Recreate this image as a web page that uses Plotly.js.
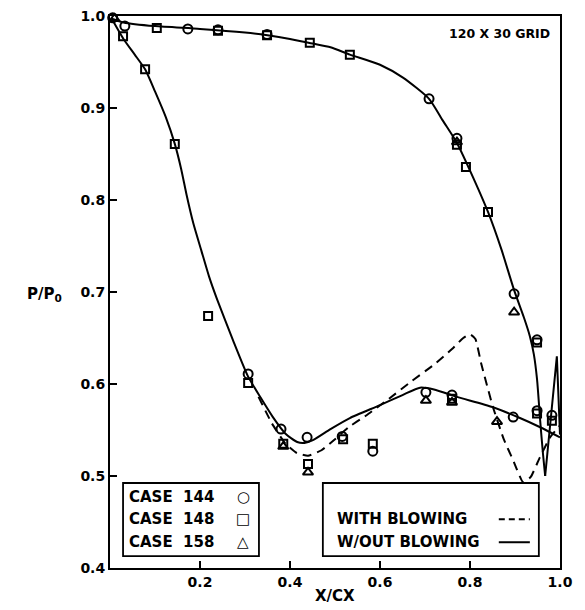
<!DOCTYPE html>
<html>
<head>
<meta charset="utf-8">
<script src="https://cdn.plot.ly/plotly-3.0.1.min.js"></script>
<style>html,body{margin:0;padding:0;background:#fff;}</style>
</head>
<body>
<div id="chart" style="width:585px;height:610px;"></div>
<script>
// ---- data ----
const xTickVals = [0.2, 0.4, 0.6, 0.8, 1.0];
const xTickText = ['0.2', '0.4', '0.6', '0.8', '1.0'];
const yTickVals = [0.4, 0.5, 0.6, 0.7, 0.8, 0.9, 1.0];
const yTickText = ['0.4', '0.5', '0.6', '0.7', '0.8', '0.9', '1.0'];

// CASE 144 (circles)
const case144X = [0.006, 0.033, 0.173, 0.240, 0.349, 0.709, 0.771, 0.898, 0.949, 0.949, 0.982,
                  0.307, 0.380, 0.438, 0.516, 0.584, 0.702, 0.760, 0.896];
const case144Y = [0.998, 0.989, 0.986, 0.985, 0.980, 0.910, 0.867, 0.698, 0.648, 0.571, 0.566,
                  0.611, 0.551, 0.542, 0.543, 0.527, 0.591, 0.588, 0.564];
// CASE 148 (squares)
const case148X = [0.029, 0.104, 0.240, 0.349, 0.444, 0.533, 0.771, 0.791, 0.840, 0.949, 0.949, 0.982,
                  0.078, 0.144, 0.218, 0.307, 0.385, 0.440, 0.518, 0.584, 0.760];
const case148Y = [0.978, 0.987, 0.984, 0.979, 0.971, 0.958, 0.860, 0.836, 0.787, 0.645, 0.568, 0.560,
                  0.942, 0.861, 0.674, 0.601, 0.535, 0.513, 0.540, 0.535, 0.584];
// CASE 158 (triangles)
const case158X = [0.010, 0.771, 0.898, 0.385, 0.440, 0.702, 0.760, 0.860];
const case158Y = [0.997, 0.863, 0.678, 0.532, 0.504, 0.582, 0.580, 0.559];

// W/OUT BLOWING (solid) - suction side, smooth part
const solidUpperX = [0.004, 0.030, 0.100, 0.200, 0.300, 0.350, 0.400, 0.450, 0.490, 0.533, 0.600, 0.651,
                     0.709, 0.740, 0.771, 0.800, 0.840, 0.870, 0.898, 0.920, 0.933, 0.942, 0.949, 0.956,
                     0.962, 0.967];
const solidUpperY = [0.997, 0.993, 0.989, 0.986, 0.982, 0.979, 0.975, 0.970, 0.966, 0.958, 0.947, 0.933,
                     0.910, 0.886, 0.862, 0.832, 0.787, 0.746, 0.702, 0.672, 0.652, 0.632, 0.605, 0.560,
                     0.525, 0.500];
// trailing-edge spike of the solid curve
const spikeX = [0.967, 0.993, 1.000];
const spikeY = [0.500, 0.630, 0.545];
// W/OUT BLOWING (solid) - pressure side
const solidLowerX = [0.004, 0.030, 0.055, 0.078, 0.100, 0.124, 0.144, 0.158, 0.170, 0.185, 0.203, 0.220,
                     0.238, 0.273, 0.307, 0.335, 0.362, 0.390, 0.416, 0.432, 0.451, 0.490, 0.533, 0.600,
                     0.650, 0.689, 0.720, 0.771, 0.850, 0.911, 0.956, 1.000];
const solidLowerY = [0.997, 0.975, 0.958, 0.942, 0.918, 0.890, 0.861, 0.834, 0.806, 0.775, 0.745, 0.717,
                     0.692, 0.648, 0.608, 0.585, 0.564, 0.546, 0.537, 0.536, 0.539, 0.551, 0.563, 0.577,
                     0.588, 0.596, 0.594, 0.586, 0.575, 0.563, 0.553, 0.542];
// WITH BLOWING (dashed) - where it departs from the solid curve
const dashedX = [0.330, 0.360, 0.390, 0.415, 0.440, 0.470, 0.500, 0.530, 0.570, 0.620, 0.670, 0.720,
                 0.760, 0.785, 0.800, 0.812, 0.825, 0.851, 0.875, 0.896, 0.918, 0.935, 0.955, 0.978, 1.000];
const dashedY = [0.586, 0.557, 0.535, 0.525, 0.522, 0.528, 0.540, 0.553, 0.566, 0.584, 0.603, 0.621,
                 0.638, 0.650, 0.654, 0.649, 0.622, 0.575, 0.540, 0.517, 0.493, 0.499, 0.520, 0.542, 0.555];

// legend texts
const caseLabels = ['CASE  144', 'CASE  148', 'CASE  158'];
const caseSymbols = ['\u25CB', '\u25A1', '\u25B3'];
const lineLabels = ['WITH BLOWING', 'W/OUT BLOWING'];

// ---- drawing ----
const FONT = 'DejaVu Sans, Arial, sans-serif';
const markerBase = {color: '#000', size: 9, line: {color: '#000', width: 2}};

const traces = [
  {x: solidUpperX, y: solidUpperY, mode: 'lines', line: {color: '#000', width: 2, shape: 'spline', smoothing: 0.6}, cliponaxis: false},
  {x: spikeX, y: spikeY, mode: 'lines', line: {color: '#000', width: 2}, cliponaxis: false},
  {x: solidLowerX, y: solidLowerY, mode: 'lines', line: {color: '#000', width: 2, shape: 'spline', smoothing: 0.6}, cliponaxis: false},
  {x: dashedX, y: dashedY, mode: 'lines', line: {color: '#000', width: 2, dash: '9px,6px', shape: 'spline', smoothing: 0.4}, cliponaxis: false},
  {x: case144X, y: case144Y, mode: 'markers', cliponaxis: false,
   marker: Object.assign({}, markerBase, {symbol: 'circle-open', size: 9})},
  {x: case148X, y: case148Y, mode: 'markers', cliponaxis: false,
   marker: Object.assign({}, markerBase, {symbol: 'square-open', size: 8})},
  {x: case158X, y: case158Y, mode: 'markers', cliponaxis: false,
   marker: Object.assign({}, markerBase, {symbol: 'triangle-up-open', size: 9})}
];

const annFont = {family: FONT, size: 15, color: '#000', weight: 'bold'};
const annotations = [];
const caseRowY = [0.477, 0.453, 0.428];
caseLabels.forEach((t, i) => {
  annotations.push({x: 0.038, y: caseRowY[i], xref: 'x', yref: 'y', text: t, showarrow: false,
                    xanchor: 'left', yanchor: 'middle', font: annFont});
  annotations.push({x: 0.296, y: caseRowY[i], xref: 'x', yref: 'y', text: caseSymbols[i], showarrow: false,
                    xanchor: 'center', yanchor: 'middle', font: {family: FONT, size: 15, color: '#000', weight: 'bold'}});
});
const lineRowY = [0.453, 0.428];
lineLabels.forEach((t, i) => {
  annotations.push({x: 0.500, y: lineRowY[i], xref: 'x', yref: 'y', text: t, showarrow: false,
                    xanchor: 'left', yanchor: 'middle', font: annFont});
});
annotations.push({x: 0.982, y: 0.981, xref: 'x', yref: 'y', text: '120 X 30 GRID', showarrow: false,
                  xanchor: 'right', yanchor: 'middle', font: {family: FONT, size: 12.5, color: '#000', weight: 'bold'}});
annotations.push({x: -0.145, y: 0.495, xref: 'paper', yref: 'paper', text: 'P/P<sub>0</sub>', showarrow: false,
                  xanchor: 'center', yanchor: 'middle', font: {family: FONT, size: 15, color: '#000', weight: 'bold'}});
annotations.push({x: 0.5, y: -0.05, xref: 'paper', yref: 'paper', text: 'X/CX', showarrow: false,
                  xanchor: 'center', yanchor: 'middle', font: {family: FONT, size: 15, color: '#000', weight: 'bold'}});

const shapes = [
  {type: 'rect', xref: 'x', yref: 'y', x0: 0.029, x1: 0.331, y0: 0.413, y1: 0.4924,
   line: {color: '#000', width: 1.8}},
  {type: 'rect', xref: 'x', yref: 'y', x0: 0.473, x1: 0.953, y0: 0.413, y1: 0.4924,
   line: {color: '#000', width: 1.8}},
  {type: 'line', xref: 'x', yref: 'y', x0: 0.864, x1: 0.933, y0: 0.453, y1: 0.453,
   line: {color: '#000', width: 2, dash: '6px,4px'}},
  {type: 'line', xref: 'x', yref: 'y', x0: 0.864, x1: 0.933, y0: 0.428, y1: 0.428,
   line: {color: '#000', width: 2}}
];

const tickFont = {family: FONT, size: 14, color: '#000', weight: 'bold'};
const layout = {
  width: 585, height: 610,
  margin: {l: 110, r: 25, t: 16, b: 42},
  paper_bgcolor: '#fff', plot_bgcolor: '#fff',
  showlegend: false,
  xaxis: {range: [0, 1.0], tickvals: xTickVals, ticktext: xTickText, ticks: 'inside', ticklen: 7,
          tickwidth: 1.5, tickcolor: '#000', showline: true, linewidth: 2, linecolor: '#000', mirror: true,
          showgrid: false, zeroline: false, tickfont: tickFont},
  yaxis: {range: [0.4, 1.0], tickvals: yTickVals, ticktext: yTickText, ticks: 'inside', ticklen: 7,
          tickwidth: 1.5, tickcolor: '#000', showline: true, linewidth: 2, linecolor: '#000', mirror: true,
          showgrid: false, zeroline: false, tickfont: tickFont},
  annotations: annotations,
  shapes: shapes
};

Plotly.newPlot('chart', traces, layout, {staticPlot: true, displayModeBar: false});
</script>
</body>
</html>
